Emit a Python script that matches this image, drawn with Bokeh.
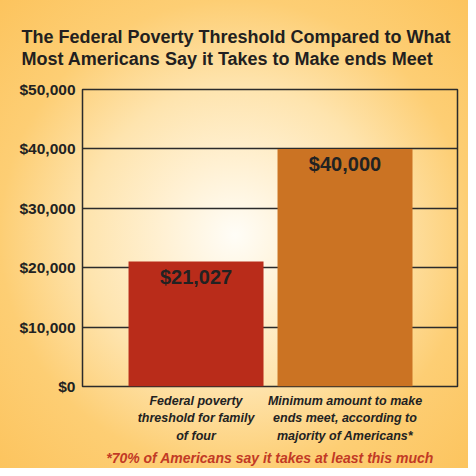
from bokeh.plotting import figure
from bokeh.models import Range1d, FixedTicker, ColumnDataSource, Title
from bokeh.core.properties import value
from bokeh.embed import file_html
from bokeh.resources import INLINE

categories = ["Federal poverty\nthreshold for family\nof four",
              "Minimum amount to make\nends meet, according to\nmajority of Americans*"]
amounts = [21027, 40000]
amount_labels = ["$21,027", "$40,000"]
bar_colors = ["#B92C1A", "#CB7323"]
y_ticks = [0, 10000, 20000, 30000, 40000, 50000]
y_tick_labels = ["$0", "$10,000", "$20,000", "$30,000", "$40,000", "$50,000"]
title_lines = ["The Federal Poverty Threshold Compared to What",
               "Most Americans Say it Takes to Make ends Meet"]
footnote = "*70% of Americans say it takes at least this much"

xs = [1, 2]
src = ColumnDataSource(dict(x=xs, top=amounts, color=bar_colors, label=amount_labels))

W, H = 468, 468
X0, X1 = 0.238, 2.755
p = figure(width=W, height=H, output_backend="svg", toolbar_location=None,
           x_range=Range1d(X0, X1), y_range=Range1d(0, 50000),
           min_border_left=82, min_border_right=11, min_border_top=89, min_border_bottom=82)
p.title.visible = False

p.styles = {"background": "radial-gradient(circle at 235px 235px, #fffdf7 0px, #fff1d4 70px, #fee4ae 150px, #fdce74 235px, #fcc35c 340px)"}
p.background_fill_color = None
p.border_fill_color = None
p.outline_line_color = "#2b2b2b"
p.outline_line_width = 1.5

p.vbar(x="x", top="top", width=0.906, color="color", source=src, line_color=None)
p.text(x="x", y="top", text="label", source=src, text_align="center", text_baseline="top",
       y_offset=4, text_font=value("Liberation Sans"), text_font_style="bold",
       text_font_size="20px", text_color="#222222")

p.xgrid.visible = False
p.ygrid.ticker = FixedTicker(ticks=y_ticks)
p.ygrid.grid_line_color = "#2b2b2b"
p.ygrid.grid_line_width = 1.4

ya = p.yaxis[0]
ya.ticker = FixedTicker(ticks=y_ticks)
ya.major_label_overrides = {t: l for t, l in zip(y_ticks, y_tick_labels)}
ya.axis_line_color = None
ya.major_tick_line_color = None
ya.minor_tick_line_color = None
ya.major_tick_out = 0
ya.major_tick_in = 0
ya.major_label_standoff = 7
ya.major_label_text_font = "Liberation Sans"
ya.major_label_text_font_style = "bold"
ya.major_label_text_font_size = "15.5px"
ya.major_label_text_color = "#222222"

xa = p.xaxis[0]
xa.ticker = FixedTicker(ticks=xs)
xa.major_label_overrides = {x: c for x, c in zip(xs, categories)}
xa.axis_line_color = None
xa.major_tick_line_color = None
xa.minor_tick_line_color = None
xa.major_tick_out = 0
xa.major_tick_in = 0
xa.major_label_standoff = 7
xa.major_label_text_font = "Liberation Sans"
xa.major_label_text_font_style = "bold italic"
xa.major_label_text_font_size = "12.5px"
xa.major_label_text_color = "#222222"
xa.major_label_text_line_height = 1.28

p.add_layout(Title(text="\n".join(title_lines), align="left", offset=-61, standoff=40,
                   text_font="Liberation Sans", text_font_style="bold",
                   text_font_size="18px", text_line_height=1.14,
                   text_color="#231F20"), "above")
p.add_layout(Title(text=footnote, align="center", standoff=3,
                   text_font="Liberation Sans", text_font_style="bold italic",
                   text_font_size="14px", text_color="#C23A25"), "below")

open("out.html", "w").write(file_html(p, INLINE))
